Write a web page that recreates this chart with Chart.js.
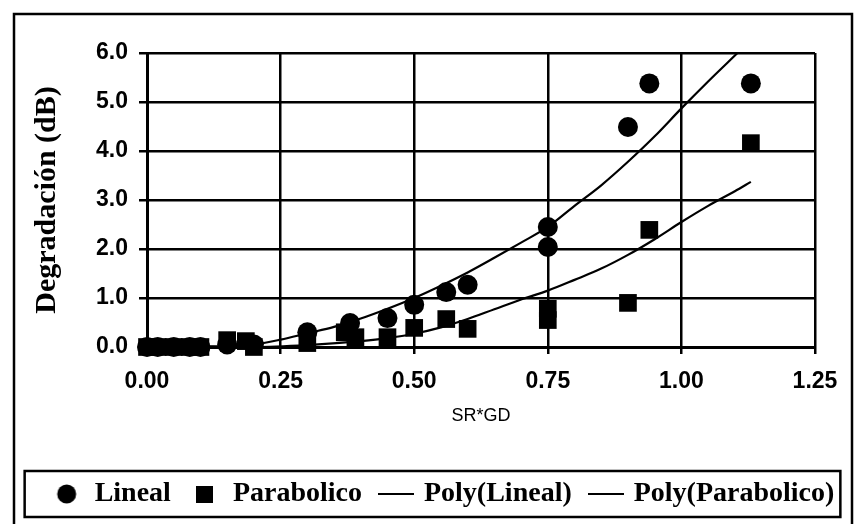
<!DOCTYPE html>
<html>
<head>
<meta charset="utf-8">
<script src="https://cdn.jsdelivr.net/npm/chart.js@4.4.1/dist/chart.umd.min.js"></script>
<style>
  html, body { margin: 0; padding: 0; background: #fff; }
  #wrap { width: 857px; height: 524px; position: relative; }
</style>
</head>
<body>
<div id="wrap"><canvas id="c" width="857" height="524"></canvas></div>
<script>
// ---- data ----
const linealX = [0.00, 0.02, 0.05, 0.08, 0.10, 0.15, 0.20, 0.30, 0.38, 0.45, 0.50, 0.56, 0.60, 0.75, 0.75, 0.90, 0.94, 1.13];
const linealY = [0.00, 0.00, 0.00, 0.00, 0.00, 0.05, 0.05, 0.30, 0.49, 0.59, 0.86, 1.12, 1.27, 2.04, 2.45, 4.49, 5.38, 5.38];

const paraX = [0.00, 0.02, 0.05, 0.08, 0.10, 0.15, 0.185, 0.20, 0.30, 0.37, 0.39, 0.45, 0.50, 0.56, 0.60, 0.75, 0.75, 0.90, 0.94, 1.13];
const paraY = [0.00, 0.00, 0.00, 0.00, 0.00, 0.14, 0.12, 0.00, 0.08, 0.30, 0.20, 0.20, 0.39, 0.57, 0.37, 0.55, 0.78, 0.90, 2.39, 4.16];

const polyLinealX = [0.00, 0.10, 0.20, 0.25, 0.30, 0.35, 0.40, 0.45, 0.50, 0.55, 0.60, 0.65, 0.70, 0.75, 0.80, 0.85, 0.90, 0.95, 1.00, 1.05, 1.105];
const polyLinealY = [0.00, 0.00, 0.05, 0.15, 0.28, 0.41, 0.58, 0.78, 1.00, 1.25, 1.52, 1.82, 2.13, 2.45, 2.88, 3.30, 3.78, 4.30, 4.87, 5.42, 6.00];

const polyParaX = [0.00, 0.10, 0.20, 0.30, 0.40, 0.45, 0.50, 0.55, 0.60, 0.65, 0.70, 0.75, 0.80, 0.85, 0.90, 0.95, 1.00, 1.05, 1.10, 1.13];
const polyParaY = [0.05, 0.02, 0.00, 0.04, 0.12, 0.18, 0.27, 0.40, 0.57, 0.77, 0.97, 1.15, 1.37, 1.60, 1.88, 2.20, 2.55, 2.88, 3.18, 3.37];

const seriesNames = ['Lineal', 'Parabolico', 'Poly(Lineal)', 'Poly(Parabolico)'];
const xTickLabels = ['0.00', '0.25', '0.50', '0.75', '1.00', '1.25'];
const yTickLabels = ['0.0', '1.0', '2.0', '3.0', '4.0', '5.0', '6.0'];
const xTitle = 'SR*GD';
const yTitle = 'Degradación (dB)';

// ---- helpers ----
const pts = (xs, ys) => xs.map((x, i) => ({x: x, y: ys[i]}));

function markCanvas(kind) {
  const c = document.createElement('canvas');
  const ctx = c.getContext('2d');
  if (kind === 'circle') {
    c.width = 22; c.height = 22;
    ctx.fillStyle = '#000';
    ctx.beginPath(); ctx.arc(11, 11, 9.5, 0, Math.PI * 2); ctx.fill();
  } else if (kind === 'square') {
    c.width = 17; c.height = 17;
    ctx.fillStyle = '#000'; ctx.fillRect(0, 0, 17, 17);
  } else {
    c.width = 36; c.height = 4;
    ctx.fillStyle = '#000'; ctx.fillRect(0, 1, 36, 2);
  }
  return c;
}
const legendMarks = [markCanvas('circle'), markCanvas('square'), markCanvas('line'), markCanvas('line')];

const framePlugin = {
  id: 'frame',
  beforeDraw(chart) {
    const ctx = chart.ctx;
    ctx.save();
    ctx.fillStyle = '#fff';
    ctx.fillRect(0, 0, chart.width, chart.height);
    ctx.strokeStyle = '#000';
    ctx.lineWidth = 2.5;
    ctx.strokeRect(14, 14, 838, 530);
    ctx.restore();
  },
  afterDraw(chart) {
    const lg = chart.legend;
    if (!lg || !lg.legendHitBoxes || !lg.legendHitBoxes.length) return;
    const hb = lg.legendHitBoxes;
    const left = Math.min(...hb.map(h => h.left)) - 28;
    const right = Math.max(...hb.map(h => h.left + h.width)) + 6;
    const cy = hb[0].top + hb[0].height / 2;
    const ctx = chart.ctx;
    ctx.save();
    ctx.strokeStyle = '#000';
    ctx.lineWidth = 2.5;
    ctx.strokeRect(left, cy - 23, right - left, 46);
    ctx.restore();
  }
};

const tickFont = {family: '"Liberation Sans", Arial, sans-serif', size: 23, weight: 'bold'};
const legendFont = {family: '"Liberation Serif", "Times New Roman", serif', size: 28, weight: 'bold'};
const yTitleFont = {family: '"Liberation Serif", "Times New Roman", serif', size: 30, weight: 'bold'};

new Chart(document.getElementById('c'), {
  type: 'scatter',
  data: {
    datasets: [
      {
        label: seriesNames[0], data: pts(linealX, linealY),
        pointStyle: 'circle', pointRadius: 10, pointHoverRadius: 10,
        backgroundColor: '#000', borderColor: '#000', borderWidth: 0, order: 3, clip: false
      },
      {
        label: seriesNames[1], data: pts(paraX, paraY),
        pointStyle: 'rect', pointRadius: 12.5, pointHoverRadius: 12.5,
        backgroundColor: '#000', borderColor: '#000', borderWidth: 0, order: 2, clip: false
      },
      {
        label: seriesNames[2], data: pts(polyLinealX, polyLinealY),
        showLine: true, pointRadius: 0, borderColor: '#000', borderWidth: 2.2,
        cubicInterpolationMode: 'monotone', order: 1
      },
      {
        label: seriesNames[3], data: pts(polyParaX, polyParaY),
        showLine: true, pointRadius: 0, borderColor: '#000', borderWidth: 2.2,
        cubicInterpolationMode: 'monotone', order: 0
      }
    ]
  },
  options: {
    responsive: false,
    animation: false,
    devicePixelRatio: 1,
    layout: { padding: { left: 30, right: 0, top: 53, bottom: 6 } },
    plugins: {
      tooltip: { enabled: false },
      legend: {
        display: true,
        position: 'bottom',
        labels: {
          usePointStyle: true,
          boxWidth: 28,
          boxHeight: 28,
          padding: 20,
          color: '#000',
          font: legendFont,
          generateLabels(chart) {
            return chart.data.datasets.map((ds, i) => ({
              text: ds.label,
              pointStyle: legendMarks[i],
              fillStyle: '#000',
              strokeStyle: '#000',
              lineWidth: 0,
              hidden: false,
              datasetIndex: i,
              fontColor: '#000'
            }));
          }
        }
      }
    },
    scales: {
      x: {
        type: 'linear', position: 'bottom',
        min: 0, max: 1.25,
        afterFit(scale) { scale.height = 113; },
        afterBuildTicks(scale) {
          scale.ticks = xTickLabels.map(t => ({value: parseFloat(t)}));
        },
        ticks: {
          color: '#000', font: tickFont, padding: 14, maxRotation: 0,
          callback(v, i) { return xTickLabels[i]; }
        },
        grid: { color: '#000', lineWidth: 2.5, tickLength: 7, drawTicks: true },
        border: { color: '#000', width: 3 },
        title: {
          display: true, text: xTitle, color: '#000',
          font: {family: '"Liberation Sans", Arial, sans-serif', size: 18},
          padding: { top: 0, bottom: 33 }
        }
      },
      y: {
        type: 'linear', position: 'left',
        min: 0, max: 6,
        afterFit(scale) { scale.width = 117; },
        afterBuildTicks(scale) {
          scale.ticks = yTickLabels.map(t => ({value: parseFloat(t)}));
        },
        ticks: {
          color: '#000', font: tickFont, padding: 11,
          callback(v, i) { return yTickLabels[i]; }
        },
        grid: { color: '#000', lineWidth: 2.5, tickLength: 8 },
        border: { color: '#000', width: 3 },
        title: {
          display: true, text: yTitle, color: '#000',
          font: yTitleFont,
          padding: { top: -1, bottom: 0 }
        }
      },
      yRight: {
        type: 'linear', position: 'right',
        min: 0, max: 6,
        afterFit(scale) { scale.width = 42; },
        ticks: { display: false },
        grid: { display: false },
        border: { display: false }
      }
    }
  },
  plugins: [framePlugin]
});
</script>
</body>
</html>
